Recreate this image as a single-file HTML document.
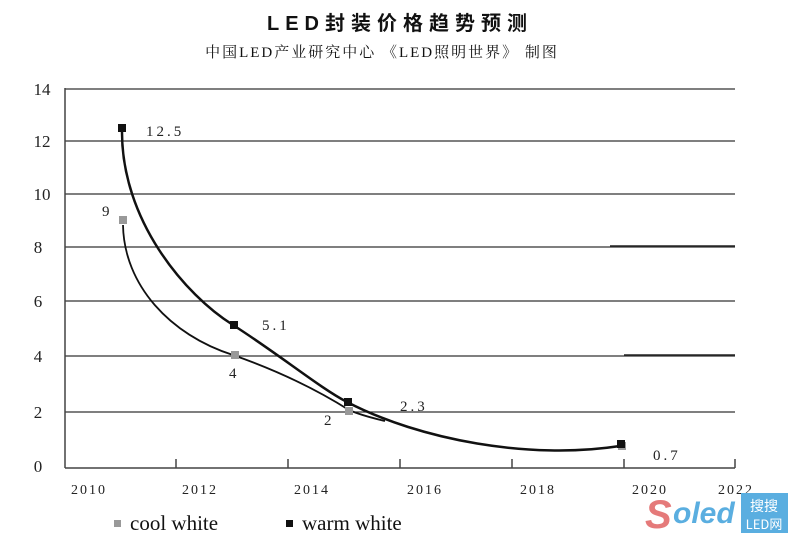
<!DOCTYPE html>
<html><head><meta charset="utf-8"><style>
html,body{margin:0;padding:0;background:#fff;width:800px;height:552px;overflow:hidden}
svg{display:block}
</style></head><body>
<svg width="800" height="552" viewBox="0 0 800 552" xmlns="http://www.w3.org/2000/svg">
<g fill="#111">
<text x="400" y="30" text-anchor="middle" font-size="20" font-weight="bold" letter-spacing="6" font-family="'Liberation Sans','Noto Sans CJK SC',sans-serif">LED封装价格趋势预测</text>
<text x="382" y="57" text-anchor="middle" font-size="15" font-family="'Liberation Serif','Noto Serif CJK SC',serif" letter-spacing="2">中国LED产业研究中心  《LED照明世界》 制图</text>
</g>
<g stroke="#333" stroke-width="1.2">
<line x1="65" y1="89" x2="735" y2="89"/>
<line x1="65" y1="141" x2="735" y2="141"/>
<line x1="65" y1="194" x2="735" y2="194"/>
<line x1="65" y1="247" x2="735" y2="247"/>
<line x1="65" y1="301" x2="735" y2="301"/>
<line x1="65" y1="356" x2="735" y2="356"/>
<line x1="65" y1="412" x2="735" y2="412"/>
</g>
<g stroke="#222" stroke-width="1.6">
<line x1="610" y1="246" x2="735" y2="246"/>
<line x1="624" y1="355" x2="735" y2="355"/>
</g>
<g stroke="#444" stroke-width="1.5" fill="none">
<line x1="65" y1="88" x2="65" y2="468"/>
<line x1="65" y1="468" x2="735" y2="468"/>
<line x1="176" y1="459" x2="176" y2="468"/><line x1="288" y1="459" x2="288" y2="468"/>
<line x1="400" y1="459" x2="400" y2="468"/><line x1="512" y1="459" x2="512" y2="468"/>
<line x1="624" y1="459" x2="624" y2="468"/><line x1="735" y1="459" x2="735" y2="468"/>
</g>
<g font-family="'Liberation Serif',serif" font-size="17" fill="#222" text-anchor="middle">
<text x="42" y="95">14</text><text x="42" y="147">12</text><text x="42" y="200">10</text>
<text x="38" y="253">8</text><text x="38" y="307">6</text><text x="38" y="362">4</text>
<text x="38" y="418">2</text><text x="38" y="472">0</text>
</g>
<g font-family="'Liberation Serif',serif" font-size="14" fill="#222" text-anchor="middle" letter-spacing="2">
<text x="89" y="494">2010</text><text x="200" y="494">2012</text><text x="312" y="494">2014</text>
<text x="425" y="494">2016</text><text x="538" y="494">2018</text><text x="650" y="494">2020</text><text x="736" y="494">2022</text>
</g>
<path d="M123,225 C124,285 170,335 233,355 C290,375 330,398 349,410 C358,414 368,417 385,421" stroke="#111" stroke-width="1.8" fill="none"/>
<path d="M122,130 C121,220 185,295 233,325 C280,355 320,388 347,402 C420,440 530,460 620,446" stroke="#111" stroke-width="2.5" fill="none"/>
<g fill="#999"><rect x="119" y="216" width="8" height="8"/><rect x="231" y="351" width="8" height="8"/><rect x="345" y="407" width="8" height="8"/><rect x="618" y="442" width="8" height="8"/></g>
<g fill="#111"><rect x="118" y="124" width="8" height="8"/><rect x="230" y="321" width="8" height="8"/><rect x="344" y="398" width="8" height="8"/><rect x="617" y="440" width="8" height="8"/></g>
<g font-family="'Liberation Serif',serif" font-size="15" fill="#222" letter-spacing="3">
<text x="146" y="136">12.5</text><text x="262" y="330">5.1</text><text x="400" y="411">2.3</text><text x="653" y="460">0.7</text>
<text x="102" y="216">9</text><text x="229" y="378">4</text><text x="324" y="425">2</text>
</g>
<g font-family="'Liberation Serif',serif" font-size="21" fill="#111">
<rect x="114" y="520" width="7" height="7" fill="#999"/><text x="130" y="530">cool white</text>
<rect x="286" y="520" width="7" height="7" fill="#111"/><text x="302" y="530">warm white</text>
</g>
<text x="645" y="528" font-family="'Liberation Sans',sans-serif" font-size="40" font-weight="bold" font-style="italic" fill="#e57a7a">S</text>
<text x="673" y="523" font-family="'Liberation Sans',sans-serif" font-size="30" font-weight="bold" font-style="italic" fill="#5aaee0">oled</text>
<rect x="741" y="493" width="47" height="40" fill="#5aaee0"/>
<text x="764" y="511" font-family="'Noto Sans CJK SC',sans-serif" font-size="14" fill="#fff" text-anchor="middle">搜搜</text>
<text x="764" y="529" font-family="'Noto Sans CJK SC',sans-serif" font-size="13" fill="#fff" text-anchor="middle">LED网</text>
</svg>
</body></html>
